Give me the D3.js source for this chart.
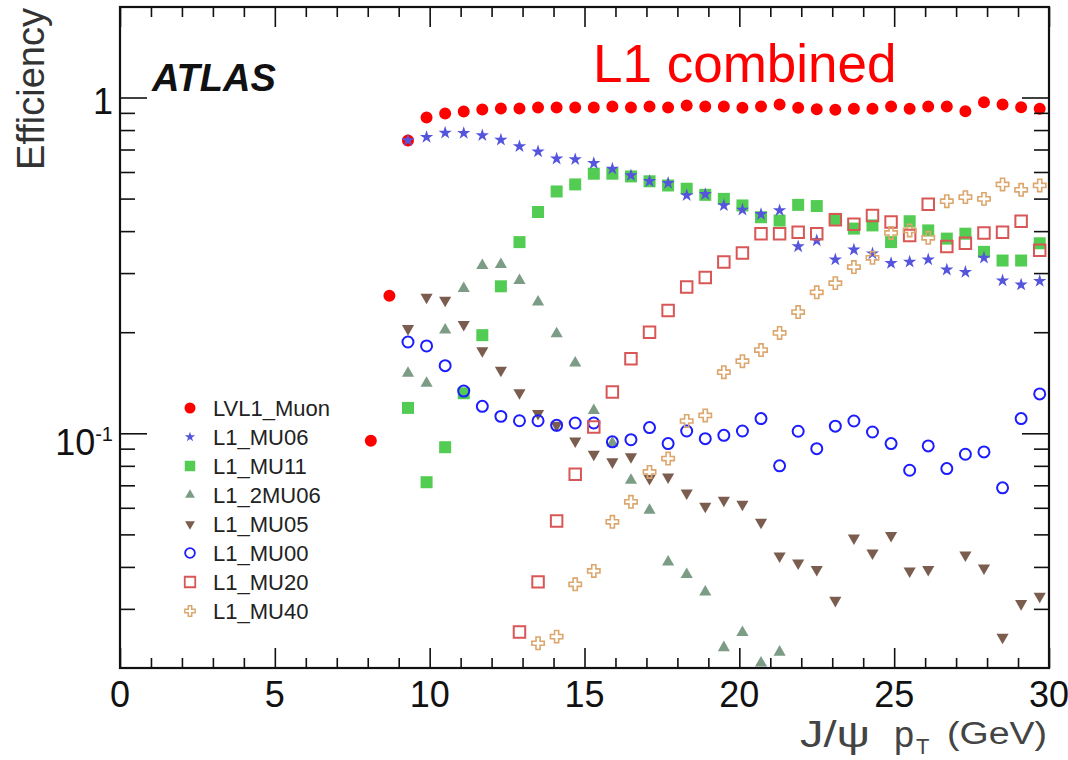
<!DOCTYPE html>
<html>
<head>
<meta charset="utf-8">
<script src="https://cdn.jsdelivr.net/npm/d3@7"></script>
<style>
body { margin: 0; background: #fff; }
svg { display: block; font-family: "Liberation Sans", Arial, sans-serif; }
</style>
</head>
<body>
<svg width="1068" height="760"></svg>
<script>
// J/psi pT bin centres (GeV)
const ptBins = [8.1, 8.7, 9.3, 9.9, 10.5, 11.1, 11.7, 12.3, 12.9, 13.5, 14.1, 14.7, 15.3,
    15.9, 16.5, 17.1, 17.7, 18.3, 18.9, 19.5, 20.1, 20.7, 21.3, 21.9, 22.5, 23.1, 23.7,
    24.3, 24.9, 25.5, 26.1, 26.7, 27.3, 27.9, 28.5, 29.1, 29.7];

const lvl1Muon = [0.095, 0.257, 0.745, 0.872, 0.896, 0.909, 0.921, 0.927, 0.927, 0.934,
    0.934, 0.934, 0.934, 0.940, 0.934, 0.940, 0.934, 0.947, 0.940, 0.940, 0.932, 0.940,
    0.953, 0.932, 0.923, 0.919, 0.926, 0.926, 0.940, 0.926, 0.940, 0.940, 0.910, 0.968,
    0.953, 0.936, 0.926];
const mu06 = [null, null, 0.745, 0.762, 0.785, 0.783, 0.771, 0.748, 0.715, 0.690, 0.657,
    0.654, 0.637, 0.613, 0.586, 0.563, 0.556, 0.511, 0.515, 0.477, 0.463, 0.449, 0.461,
    0.360, 0.375, 0.329, 0.352, 0.343, 0.321, 0.324, 0.329, 0.307, 0.302, 0.333, 0.285,
    0.277, 0.284];
const mu11 = [null, null, 0.119, 0.0715, 0.0909, 0.1316, 0.196, 0.274, 0.371, 0.456, 0.525,
    0.551, 0.593, 0.593, 0.582, 0.563, 0.547, 0.535, 0.513, 0.499, 0.477, 0.440, 0.430,
    0.479, 0.475, 0.435, 0.407, 0.416, 0.371, 0.428, 0.402, 0.380, 0.393, 0.347, 0.327,
    0.327, 0.368];
const twoMu06 = [null, null, 0.151, 0.141, 0.203, 0.270, 0.316, 0.318, 0.285, 0.246, 0.198,
    0.162, 0.117, 0.0936, 0.0725, 0.059, 0.0414, 0.038, 0.0337, 0.0230, 0.0255, 0.0207,
    0.0223, null, null, null, null, null, null, null, null, null, null, null, null, null, null];
const mu05 = [null, null, 0.205, 0.254, 0.249, 0.211, 0.176, 0.154, 0.132, 0.1145, 0.1056,
    0.0948, 0.0866, 0.0822, 0.0851, 0.0733, 0.0741, 0.0664, 0.0606, 0.0632, 0.0615, 0.0543,
    0.0431, 0.0411, 0.0393, 0.0318, 0.0488, 0.0440, 0.0496, 0.0389, 0.0393, null, 0.0434,
    0.0397, 0.0247, 0.0311, 0.0327];
const mu00 = [null, null, 0.187, 0.182, 0.159, 0.1336, 0.1203, 0.1123, 0.109, 0.109, 0.1056,
    0.1073, 0.1073, 0.0943, 0.0957, 0.104, 0.0932, 0.1016, 0.0964, 0.0986, 0.1016, 0.1106,
    0.080, 0.1014, 0.090, 0.105, 0.1088, 0.1009, 0.0932, 0.0776, 0.0917, 0.0785, 0.0866,
    0.088, 0.0688, 0.1106, 0.131];
const mu20 = [null, null, null, null, null, null, null, null, 0.0256, 0.0361, 0.0548, 0.0755,
    0.1044, 0.1327, 0.1668, 0.200, 0.232, 0.2725, 0.291, 0.3235, 0.344, 0.393, 0.393, 0.397,
    0.393, 0.4325, 0.419, 0.4455, 0.4255, 0.388, 0.481, 0.360, 0.368, 0.395, 0.397, 0.428,
    0.351];
const mu40 = [null, null, null, null, null, null, null, null, null, 0.0237, 0.0248, 0.0355,
    0.0389, 0.0545, 0.0625, 0.0767, 0.0841, 0.1088, 0.113, 0.152, 0.164, 0.177, 0.199,
    0.2297, 0.263, 0.280, 0.3126, 0.333, 0.395, 0.402, 0.382, 0.491, 0.505, 0.499, 0.551,
    0.531, 0.547];

const seriesNames = ['LVL1_Muon', 'L1_MU06', 'L1_MU11', 'L1_2MU06', 'L1_MU05', 'L1_MU00', 'L1_MU20', 'L1_MU40'];

const xMajorTicks = [0, 5, 10, 15, 20, 25, 30];
const xTickLabels = ['0', '5', '10', '15', '20', '25', '30'];
const xMinorTicks = [1, 2, 3, 4, 6, 7, 8, 9, 11, 12, 13, 14, 16, 17, 18, 19, 21, 22, 23, 24, 26, 27, 28, 29];
const yMajorTicks = [0.1, 1];
const yTickLabels = [['10', '-1'], ['1', '']];
const yMinorTicks = [0.03, 0.04, 0.05, 0.06, 0.07, 0.08, 0.09, 0.2, 0.3, 0.4, 0.5, 0.6, 0.7, 0.8, 0.9];

const svg = d3.select('svg');
const WIDTH = +svg.attr('width');
const HEIGHT = +svg.attr('height');

const frame = {left: 120, right: 1049, top: 7, bottom: 668};

const xScale = d3.scaleLinear().domain([0, 30]).range([frame.left, frame.right]);
const yScale = d3.scaleLog().domain([0.02, 1.86]).range([frame.bottom, frame.top]);

// marker styles per series (same order as seriesNames)
const styles = [
    {vals: lvl1Muon, type: d3.symbolCircle, size: 113, fill: '#ff0000', stroke: 'none', rot: 0, lsize: 95},
    {vals: mu06, type: d3.symbolStar, size: 55, fill: '#5454dc', stroke: 'none', rot: 0, lsize: 32},
    {vals: mu11, type: d3.symbolSquare, size: 144, fill: '#52cc52', stroke: 'none', rot: 0, lsize: 110},
    {vals: twoMu06, type: d3.symbolTriangle, size: 64, fill: '#7c9c86', stroke: 'none', rot: 0, lsize: 42},
    {vals: mu05, type: d3.symbolTriangle, size: 64, fill: '#7b5d4f', stroke: 'none', rot: 180, lsize: 42},
    {vals: mu00, type: d3.symbolCircle, size: 95, fill: 'none', stroke: '#1c1cff', rot: 0, lsize: 75},
    {vals: mu20, type: d3.symbolSquare, size: 132, fill: 'none', stroke: '#d95656', rot: 0, lsize: 110},
    {vals: mu40, type: d3.symbolCross, size: 85, fill: 'none', stroke: '#dca66c', rot: 0, lsize: 60}
];
const drawOrder = [0, 2, 3, 4, 1, 5, 6, 7];

let drawAxes = (layer) => {
    let tickStyle = g => {
        g.select('.domain').remove();
        g.selectAll('.tick line').attr('stroke', '#111').attr('stroke-width', 1.6);
    };
    layer.append('g').attr('transform', 'translate(0,' + frame.bottom + ')')
        .call(d3.axisBottom(xScale).tickValues(xMajorTicks).tickSize(-20).tickFormat(''))
        .call(tickStyle);
    layer.append('g').attr('transform', 'translate(0,' + frame.bottom + ')')
        .call(d3.axisBottom(xScale).tickValues(xMinorTicks).tickSize(-10).tickFormat(''))
        .call(tickStyle);
    layer.append('g').attr('transform', 'translate(0,' + frame.top + ')')
        .call(d3.axisTop(xScale).tickValues(xMajorTicks).tickSize(-20).tickFormat(''))
        .call(tickStyle);
    layer.append('g').attr('transform', 'translate(0,' + frame.top + ')')
        .call(d3.axisTop(xScale).tickValues(xMinorTicks).tickSize(-10).tickFormat(''))
        .call(tickStyle);
    layer.append('g').attr('transform', 'translate(' + frame.left + ',0)')
        .call(d3.axisLeft(yScale).tickValues(yMajorTicks).tickSize(-27).tickFormat(''))
        .call(tickStyle);
    layer.append('g').attr('transform', 'translate(' + frame.left + ',0)')
        .call(d3.axisLeft(yScale).tickValues(yMinorTicks).tickSize(-15).tickFormat(''))
        .call(tickStyle);
    layer.append('g').attr('transform', 'translate(' + frame.right + ',0)')
        .call(d3.axisRight(yScale).tickValues(yMajorTicks).tickSize(-27).tickFormat(''))
        .call(tickStyle);
    layer.append('g').attr('transform', 'translate(' + frame.right + ',0)')
        .call(d3.axisRight(yScale).tickValues(yMinorTicks).tickSize(-15).tickFormat(''))
        .call(tickStyle);

    layer.append('rect')
        .attr('x', frame.left).attr('y', frame.top)
        .attr('width', frame.right - frame.left).attr('height', frame.bottom - frame.top)
        .attr('fill', 'none').attr('stroke', '#111').attr('stroke-width', 2.2);

    layer.selectAll('.xlab')
        .data(xMajorTicks)
        .enter().append('text')
        .attr('class', 'xlab')
        .attr('x', d => xScale(d))
        .attr('y', 707)
        .attr('text-anchor', 'middle')
        .style('font-size', '36px')
        .attr('fill', '#111')
        .text((d, i) => xTickLabels[i]);

    let ylab = layer.selectAll('.ylab')
        .data(yMajorTicks)
        .enter().append('text')
        .attr('class', 'ylab')
        .attr('x', 113)
        .attr('y', (d, i) => yScale(d) + (i === 0 ? 22 : 16))
        .attr('text-anchor', 'end')
        .attr('fill', '#111');
    ylab.append('tspan').style('font-size', '36px').text((d, i) => yTickLabels[i][0]);
    ylab.append('tspan').attr('dy', -14).style('font-size', '20px').text((d, i) => yTickLabels[i][1]);
}

let drawMarkers = (layer) => {
    drawOrder.forEach(si => {
        let s = styles[si];
        let pts = ptBins.map((p, i) => ({pt: p, eff: s.vals[i]})).filter(d => d.eff !== null);
        layer.append('g').selectAll('path')
            .data(pts)
            .enter().append('path')
            .attr('d', d3.symbol().type(s.type).size(s.size))
            .attr('transform', d => 'translate(' + xScale(d.pt) + ',' + yScale(d.eff) + ') rotate(' + s.rot + ')')
            .attr('fill', s.fill)
            .attr('stroke', s.stroke)
            .attr('stroke-width', s.type === d3.symbolCross ? 1.6 : 2);
    });
}

let drawLegend = (layer) => {
    let rows = layer.selectAll('.leg')
        .data(seriesNames)
        .enter().append('g')
        .attr('class', 'leg')
        .attr('transform', (d, i) => 'translate(190,' + (408 + i * 29) + ')');
    rows.append('path')
        .attr('d', (d, i) => d3.symbol().type(styles[i].type).size(styles[i].lsize)())
        .attr('transform', (d, i) => 'rotate(' + styles[i].rot + ')')
        .attr('fill', (d, i) => styles[i].fill)
        .attr('stroke', (d, i) => styles[i].stroke)
        .attr('stroke-width', (d, i) => styles[i].type === d3.symbolCross ? 1.4 : 1.8);
    rows.append('text')
        .attr('x', 23)
        .attr('y', 8)
        .style('font-size', '22px')
        .attr('fill', '#222')
        .text(d => d);
}

svg.append('defs').append('clipPath').attr('id', 'plotclip')
    .append('rect')
    .attr('x', frame.left).attr('y', frame.top)
    .attr('width', frame.right - frame.left).attr('height', frame.bottom - frame.top);

let markerLayer = svg.append('g').attr('clip-path', 'url(#plotclip)');
drawMarkers(markerLayer);
drawAxes(svg.append('g'));
drawLegend(svg.append('g'));

// titles
svg.append('text')
    .attr('transform', 'translate(44,8) rotate(-90)')
    .attr('text-anchor', 'end')
    .style('font-size', '38px')
    .attr('fill', '#333')
    .text('Efficiency');

svg.append('text')
    .attr('x', 152).attr('y', 91)
    .style('font-size', '38px')
    .style('font-weight', 'bold')
    .style('font-style', 'italic')
    .attr('fill', '#111')
    .text('ATLAS');

svg.append('text')
    .attr('x', 593).attr('y', 82)
    .style('font-size', '53px')
    .attr('fill', '#ff0000')
    .text('L1 combined');

let xTitle = svg.append('g').attr('fill', '#444');
xTitle.append('text').attr('x', 800).attr('y', 747).style('font-size', '36px')
    .attr('textLength', 70).attr('lengthAdjust', 'spacingAndGlyphs').text('J/ψ');
xTitle.append('text').attr('x', 894).attr('y', 747).style('font-size', '36px').text('p');
xTitle.append('text').attr('x', 916).attr('y', 754).style('font-size', '22px').text('T');
xTitle.append('text').attr('x', 947).attr('y', 744).style('font-size', '31px')
    .attr('textLength', 100).attr('lengthAdjust', 'spacingAndGlyphs').text('(GeV)');
</script>
</body>
</html>
